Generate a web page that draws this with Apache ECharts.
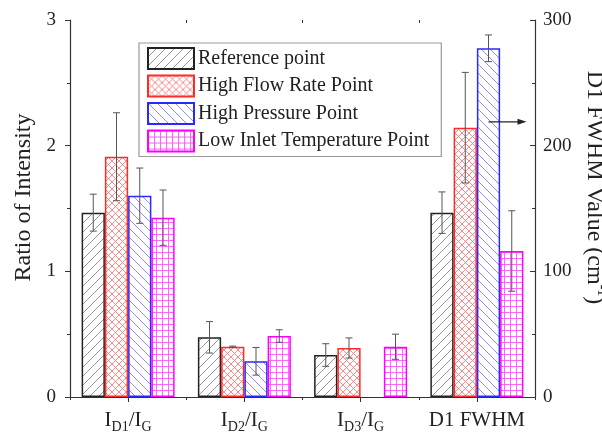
<!DOCTYPE html>
<html>
<head>
<meta charset="utf-8">
<script src="https://cdn.jsdelivr.net/npm/echarts@6/dist/echarts.min.js"></script>
<style>
html,body{margin:0;padding:0;background:#fff;overflow:hidden;}
#c{width:602px;height:433px;}
</style>
</head>
<body>
<div id="c"></div>
<script>
// ---------- data ----------
const categories = ['ID1/IG', 'ID2/IG', 'ID3/IG', 'D1 FWHM'];
const categoryLabels = ['{m|I}{s|D1}{m|/I}{s|G}', '{m|I}{s|D2}{m|/I}{s|G}', '{m|I}{s|D3}{m|/I}{s|G}', '{m|D1 FWHM}'];
const seriesNames = ['Reference point', 'High Flow Rate Point', 'High Pressure Point', 'Low Inlet Temperature Point'];

// Ratio of intensity (left axis) for ID1/IG, ID2/IG, ID3/IG
const refRatio = [1.467, 0.475, 0.334];
const refRatioErr = [0.147, 0.125, 0.09];
const flowRatio = [1.912, 0.40, 0.39];
const flowRatioErr = [0.35, 0.005, 0.08];
const pressRatio = [1.602, 0.284, null];
const pressRatioErr = [0.22, 0.11, null];
const tempRatio = [1.427, 0.485, 0.40];
const tempRatioErr = [0.22, 0.05, 0.10];

// D1 FWHM value (right axis, cm-1)
const fwhm = [146.7, 214.3, 277.5, 116.2];
const fwhmErr = [16.5, 44, 10.6, 32];

const leftTicks = [0, 1, 2, 3];
const rightTicks = [0, 100, 200, 300];
// ---------------------------

const FONT = 'Liberation Serif';
const borderColors = ['#222222', '#ff2a2a', '#2a2aff', '#ff00ff'];

function makePattern(color, type, size, lw) {
  const c = document.createElement('canvas');
  c.width = size; c.height = size;
  const g = c.getContext('2d');
  g.fillStyle = '#ffffff';
  g.fillRect(0, 0, size, size);
  g.strokeStyle = color;
  g.lineWidth = lw;
  g.beginPath();
  if (type === 'fwd' || type === 'cross') {
    g.moveTo(0, size); g.lineTo(size, 0);
    g.moveTo(-size, size); g.lineTo(size, -size);
    g.moveTo(0, 2 * size); g.lineTo(2 * size, 0);
  }
  if (type === 'back' || type === 'cross') {
    g.moveTo(0, 0); g.lineTo(size, size);
    g.moveTo(-size, 0); g.lineTo(size, 2 * size);
    g.moveTo(0, -size); g.lineTo(2 * size, size);
  }
  if (type === 'grid') {
    g.moveTo(0, 0.5); g.lineTo(size, 0.5);
    g.moveTo(0.5, 0); g.lineTo(0.5, size);
  }
  g.stroke();
  return c;
}

const patterns = [
  makePattern('#8a8a8a', 'fwd', 9, 0.9),
  makePattern('#ff7a7a', 'cross', 7, 0.9),
  makePattern('#8080ff', 'back', 9, 0.9),
  makePattern('#ff55ff', 'grid', 6, 0.9)
];

const GAP = 0.2;

function itemStyle(i) {
  return {
    color: { image: patterns[i], repeat: 'repeat' },
    borderColor: borderColors[i],
    borderWidth: 1.5
  };
}

const ratioVals = [refRatio, flowRatio, pressRatio, tempRatio];
const ratioErrs = [refRatioErr, flowRatioErr, pressRatioErr, tempRatioErr];

const series = [];
for (let i = 0; i < 4; i++) {
  const d = categories.map((c, k) => (k < 3 && ratioVals[i][k] != null) ? ratioVals[i][k] : '-');
  series.push({
    name: seriesNames[i], type: 'bar', xAxisIndex: 0, yAxisIndex: 0,
    barGap: '0%', barCategoryGap: (GAP * 100) + '%',
    itemStyle: itemStyle(i), data: d, silent: true
  });
}
for (let i = 0; i < 4; i++) {
  const d = categories.map((c, k) => k === 3 ? fwhm[i] : '-');
  series.push({
    name: seriesNames[i], type: 'bar', xAxisIndex: 1, yAxisIndex: 1,
    barGap: '0%', barCategoryGap: (GAP * 100) + '%',
    itemStyle: itemStyle(i), data: d, silent: true
  });
}

function errRender(slot) {
  return function (params, api) {
    const cat = api.value(0), v = api.value(1), e = api.value(2);
    const band = api.size([1, 0])[0];
    const bw = band * (1 - GAP) / 4;
    const c = api.coord([cat, v]);
    const x = c[0] + (slot - 1.5) * bw;
    const yt = api.coord([cat, v + e])[1];
    const yb = api.coord([cat, v - e])[1];
    const cap = 3.5;
    const st = { stroke: '#555555', lineWidth: 1 };
    return {
      type: 'group',
      children: [
        { type: 'line', shape: { x1: x, y1: yt, x2: x, y2: yb }, style: st },
        { type: 'line', shape: { x1: x - cap, y1: yt, x2: x + cap, y2: yt }, style: st },
        { type: 'line', shape: { x1: x - cap, y1: yb, x2: x + cap, y2: yb }, style: st }
      ]
    };
  };
}

for (let i = 0; i < 4; i++) {
  const d = [];
  for (let k = 0; k < 3; k++) {
    if (ratioVals[i][k] != null) d.push([k, ratioVals[i][k], ratioErrs[i][k]]);
  }
  series.push({
    type: 'custom', xAxisIndex: 0, yAxisIndex: 0, z: 10, silent: true,
    renderItem: errRender(i), data: d, encode: { x: 0, y: 1 }
  });
  series.push({
    type: 'custom', xAxisIndex: 1, yAxisIndex: 1, z: 10, silent: true,
    renderItem: errRender(i), data: [[3, fwhm[i], fwhmErr[i]]], encode: { x: 0, y: 1 }
  });
}

const axisLine = { show: true, lineStyle: { color: '#333', width: 1.2 } };
const tickStyle = { color: '#333', width: 1 };

const option = {
  backgroundColor: '#ffffff',
  animation: false,
  textStyle: { fontFamily: FONT },
  grid: { left: 70, right: 67, top: 20, bottom: 36, containLabel: false, outerBoundsMode: 'none' },
  legend: {
    data: seriesNames,
    orient: 'vertical',
    left: 139, top: 43,
    itemWidth: 46, itemHeight: 21, itemGap: 4.5,
    padding: [4, 12, 4, 8],
    borderColor: '#9a9a9a', borderWidth: 1.2,
    backgroundColor: '#ffffff',
    selectedMode: false,
    textStyle: { fontFamily: FONT, fontSize: 20, color: '#222', padding: [0, 0, 0, -1] },
    icon: 'rect'
  },
  xAxis: [
    {
      type: 'category', data: categories, position: 'bottom',
      axisLine: axisLine,
      axisTick: { show: true, alignWithLabel: true, inside: false, length: 5, lineStyle: tickStyle },
      axisLabel: {
        interval: 0, hideOverlap: false,
        margin: 9,
        formatter: (v, i) => categoryLabels[i],
        rich: {
          m: { fontFamily: FONT, fontSize: 21, color: '#222', lineHeight: 28 },
          s: { fontFamily: FONT, fontSize: 14, color: '#222', verticalAlign: 'bottom', lineHeight: 14 }
        }
      },
      splitLine: { show: false }
    },
    {
      type: 'category', data: categories, position: 'top',
      axisLine: axisLine,
      axisTick: { show: true, alignWithLabel: true, inside: true, length: 5, lineStyle: tickStyle },
      axisLabel: { show: false },
      splitLine: { show: false }
    },
    {
      type: 'category', data: categories, position: 'bottom', offset: 0,
      axisLine: { show: false },
      axisTick: { show: true, alignWithLabel: false, inside: false, length: 3, lineStyle: tickStyle },
      axisLabel: { show: false },
      splitLine: { show: false }
    },
    {
      type: 'category', data: categories, position: 'top', offset: 0,
      axisLine: { show: false },
      axisTick: { show: true, alignWithLabel: false, inside: true, length: 3, lineStyle: tickStyle },
      axisLabel: { show: false },
      splitLine: { show: false }
    }
  ],
  yAxis: [
    {
      type: 'value', position: 'left',
      min: leftTicks[0], max: leftTicks[leftTicks.length - 1], interval: 1,
      axisLine: axisLine,
      axisTick: { show: true, inside: false, length: 5, lineStyle: tickStyle },
      minorTick: { show: true, splitNumber: 2, length: 3, lineStyle: tickStyle },
      splitLine: { show: false },
      axisLabel: { fontFamily: FONT, fontSize: 19, color: '#222', margin: 14 },
      name: 'Ratio of Intensity',
      nameLocation: 'middle', nameGap: 24,
      nameTextStyle: { fontFamily: FONT, fontSize: 24, color: '#222', padding: [0, 0, 0, 22] }
    },
    {
      type: 'value', position: 'right',
      min: rightTicks[0], max: rightTicks[rightTicks.length - 1], interval: 100,
      axisLine: axisLine,
      axisTick: { show: true, inside: true, length: 5, lineStyle: tickStyle },
      minorTick: { show: true, splitNumber: 2, length: 3, lineStyle: tickStyle },
      splitLine: { show: false },
      axisLabel: { fontFamily: FONT, fontSize: 19, color: '#222', margin: 8 },
      name: '{a|D1 FWHM Value (cm}{b|-1}{a|)}',
      nameLocation: 'middle', nameGap: 38, nameRotate: -90,
      nameTextStyle: {
        padding: [0, 42, 0, 0],
        rich: {
          a: { fontFamily: FONT, fontSize: 24, color: '#222', lineHeight: 28 },
          b: { fontFamily: FONT, fontSize: 14, color: '#222', verticalAlign: 'top', lineHeight: 14 }
        }
      }
    }
  ],
  series: series
};

const chart = echarts.init(document.getElementById('c'), null, { renderer: 'canvas' });
chart.setOption(option);

// annotation arrow pointing to the right axis, from the High Pressure bar
(function () {
  const xc = chart.convertToPixel({ xAxisIndex: 1 }, 'D1 FWHM');
  const band = xc - chart.convertToPixel({ xAxisIndex: 1 }, 'ID3/IG');
  const bw = band * (1 - GAP) / 4;
  const x0 = xc + 0.5 * bw;
  const x1 = x0 + 38;
  const y = chart.convertToPixel({ yAxisIndex: 1 }, 219);
  chart.setOption({
    graphic: [
      { type: 'line', shape: { x1: x0, y1: y, x2: x1 - 6, y2: y }, style: { stroke: '#222', lineWidth: 1.2 }, z: 20 },
      { type: 'polygon', shape: { points: [[x1, y], [x1 - 9, y - 3], [x1 - 9, y + 3]] }, style: { fill: '#222' }, z: 20 }
    ]
  });
})();
</script>
</body>
</html>
